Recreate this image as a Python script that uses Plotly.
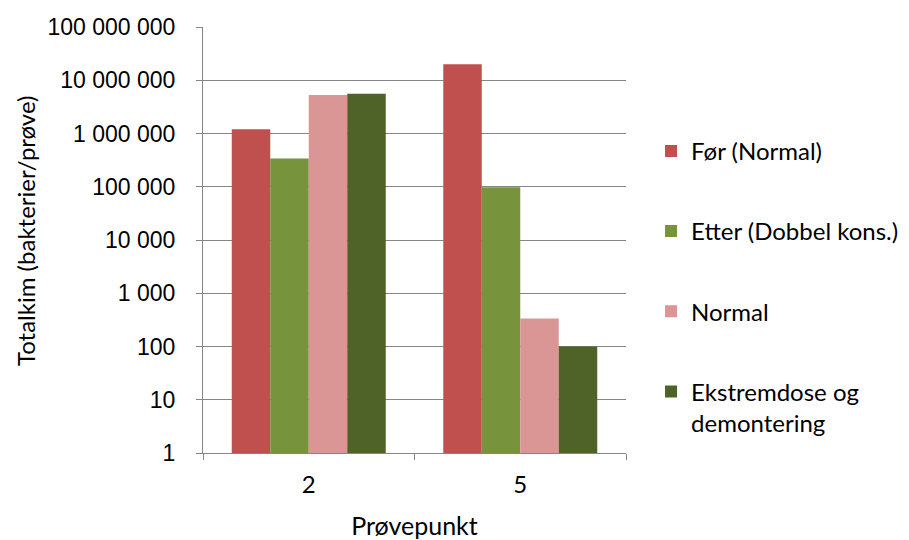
import plotly.graph_objects as go

categories = ["2", "5"]
series_names = ["Før (Normal)", "Etter (Dobbel kons.)", "Normal", "Ekstremdose og<br>demontering"]
for_normal = [1200000, 20000000]
etter_dobbel = [340000, 98000]
normal = [5300000, 335]
ekstrem = [5600000, 100]
series_values = [for_normal, etter_dobbel, normal, ekstrem]
colors = ["#C0504D", "#77933C", "#D99694", "#4F6228"]

y_tickvals = [1, 10, 100, 1000, 10000, 100000, 1000000, 10000000, 100000000]
y_ticktext = ["1", "10", "100", "1 000", "10 000", "100 000",
              "1 000 000", "10 000 000", "100 000 000"]
y_title = "Totalkim (bakterier/prøve)"
x_title = "Prøvepunkt"

fig = go.Figure()
for i, (name, vals, col) in enumerate(zip(series_names, series_values, colors)):
    fig.add_trace(go.Bar(
        x=categories, y=vals, name=name, marker=dict(color=col, line=dict(width=0)),
        legendgroup=f"g{i}",
    ))

axis_gray = "#868686"
txt_font = "Lato, sans-serif"
fig.update_layout(
    width=901, height=532,
    margin=dict(l=195, r=283, t=19, b=87),
    paper_bgcolor="white", plot_bgcolor="white",
    barmode="group", bargap=0.272, bargroupgap=0,
    font=dict(family=txt_font, color="#000000", size=24),
    legend=dict(
        x=0.7137, xanchor="left", xref="container", y=0.761, yanchor="top", yref="paper",
        tracegroupgap=46, valign="top", traceorder="grouped",
        font=dict(family=txt_font, size=24),
        bgcolor="rgba(0,0,0,0)", itemclick=False,
    ),
    showlegend=True,
    annotations=[dict(
        text=y_title, textangle=-90, xref="paper", yref="paper",
        x=-0.4208, y=0.521, xanchor="center", yanchor="middle",
        showarrow=False, font=dict(family=txt_font, size=24),
    )],
)
fig.update_yaxes(
    type="log", range=[0, 8], tickvals=y_tickvals, ticktext=y_ticktext,
    showgrid=True, gridcolor=axis_gray, gridwidth=1,
    showline=True, linecolor=axis_gray, linewidth=1,
    ticks="outside", ticklen=6, tickcolor=axis_gray,
    tickfont=dict(family="Liberation Sans, Arial, sans-serif", size=23),
    ticklabelstandoff=16, automargin=False,
    zeroline=False,
)
fig.update_xaxes(
    type="category", showline=True, linecolor=axis_gray, linewidth=1,
    ticks="outside", ticklen=6, tickcolor=axis_gray, tickson="boundaries",
    tickfont=dict(family=txt_font, size=24),
    ticklabelstandoff=10, automargin=False,
    title=dict(text=x_title, standoff=20, font=dict(family=txt_font, size=25)),
    showgrid=False,
)

fig.write_html("out.html")
